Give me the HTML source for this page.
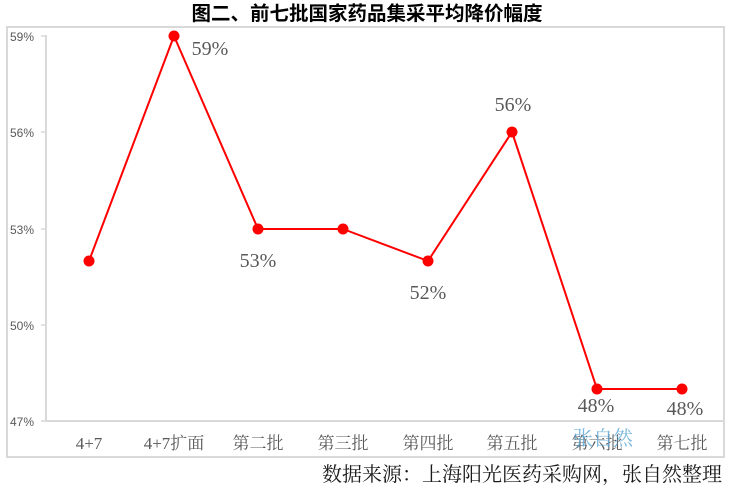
<!DOCTYPE html>
<html>
<head>
<meta charset="utf-8">
<style>
html,body{margin:0;padding:0;background:#fff;}
body{width:730px;height:491px;overflow:hidden;}
svg{display:block;}
</style>
</head>
<body>
<svg width="730" height="491" viewBox="0 0 730 491" xmlns="http://www.w3.org/2000/svg">
  <!-- Title -->
  <text x="367" y="20" text-anchor="middle" font-family="'Liberation Sans','Noto Sans CJK SC',sans-serif" font-weight="bold" font-size="19.5" fill="#000">图二、前七批国家药品集采平均降价幅度</text>

  <!-- outer border -->
  <rect x="7" y="27" width="717" height="430" fill="none" stroke="#d9d9d9" stroke-width="2"/>

  <!-- axes -->
  <line x1="46" y1="35" x2="46" y2="422" stroke="#d9d9d9" stroke-width="2"/>
  <line x1="45" y1="421" x2="724" y2="421" stroke="#d9d9d9" stroke-width="2"/>
  <g stroke="#d9d9d9" stroke-width="1.5">
    <line x1="41" y1="36" x2="46" y2="36"/>
    <line x1="41" y1="132" x2="46" y2="132"/>
    <line x1="41" y1="229" x2="46" y2="229"/>
    <line x1="41" y1="325" x2="46" y2="325"/>
    <line x1="41" y1="421" x2="46" y2="421"/>
  </g>

  <!-- y tick labels -->
  <g font-family="'Liberation Sans',sans-serif" font-size="12" fill="#595959" text-anchor="end">
    <text x="34" y="41">59%</text>
    <text x="34" y="137">56%</text>
    <text x="34" y="234">53%</text>
    <text x="34" y="330">50%</text>
    <text x="34" y="426">47%</text>
  </g>

  <!-- x labels -->
  <g font-family="'Liberation Serif','Noto Serif CJK SC',serif" font-size="17" fill="#595959" text-anchor="middle">
    <text x="89" y="449">4+7</text>
    <text x="174" y="449">4+7扩面</text>
    <text x="258" y="449">第二批</text>
    <text x="343" y="449">第三批</text>
    <text x="428" y="449">第四批</text>
    <text x="512" y="449">第五批</text>
    <text x="597" y="449">第六批</text>
    <text x="682" y="449">第七批</text>
  </g>

  <!-- watermark -->
  <text x="603" y="445" text-anchor="middle" font-family="'Noto Serif CJK SC',serif" font-size="20" fill="#5aa6d6" fill-opacity="0.8">张自然</text>

  <!-- series -->
  <polyline points="89,261 174,36 258,229 343,229 428,261 512,132 597,389 682,389" fill="none" stroke="#ff0000" stroke-width="2" stroke-linejoin="round"/>
  <g fill="#ff0000">
    <circle cx="89" cy="261" r="5.5"/>
    <circle cx="174" cy="36" r="5.5"/>
    <circle cx="258" cy="229" r="5.5"/>
    <circle cx="343" cy="229" r="5.5"/>
    <circle cx="428" cy="261" r="5.5"/>
    <circle cx="512" cy="132" r="5.5"/>
    <circle cx="597" cy="389" r="5.5"/>
    <circle cx="682" cy="389" r="5.5"/>
  </g>

  <!-- data labels -->
  <g font-family="'Liberation Serif',serif" font-size="20" fill="#595959" text-anchor="middle">
    <text x="210" y="55">59%</text>
    <text x="258" y="267">53%</text>
    <text x="428" y="299">52%</text>
    <text x="513" y="111">56%</text>
    <text x="596" y="412">48%</text>
    <text x="685" y="415">48%</text>
  </g>

  <!-- footer -->
  <text x="722" y="481" text-anchor="end" font-family="'Noto Serif CJK SC',serif" font-size="20" fill="#1a1a1a">数据来源：上海阳光医药采购网，张自然整理</text>
</svg>
</body>
</html>
